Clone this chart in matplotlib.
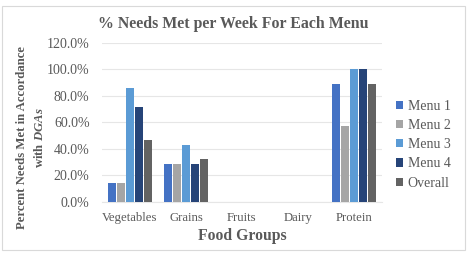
import numpy as np
import matplotlib
matplotlib.use("Agg")
import matplotlib.pyplot as plt
from matplotlib.patches import Rectangle

plt.rcParams['font.family'] = ['Liberation Serif', 'DejaVu Serif']
plt.rcParams['mathtext.fontset'] = 'custom'
plt.rcParams['mathtext.bfit'] = 'Liberation Serif:italic:bold'
plt.rcParams['mathtext.it'] = 'Liberation Serif:italic'
plt.rcParams['mathtext.rm'] = 'Liberation Serif'

groups = ["Vegetables", "Grains", "Fruits", "Dairy", "Protein"]
series = ["Menu 1", "Menu 2", "Menu 3", "Menu 4", "Overall"]
menu1 = [14.3, 28.6, 0, 0, 89.3]
menu2 = [14.3, 28.6, 0, 0, 57.1]
menu3 = [85.7, 42.9, 0, 0, 100.0]
menu4 = [71.4, 28.6, 0, 0, 100.0]
overall = [46.4, 32.1, 0, 0, 89.3]
colors = ["#4472C4", "#A5A5A5", "#5B9BD5", "#264478", "#636363"]

text_col = "#595959"

fig = plt.figure(figsize=(4.68, 2.54), dpi=100)
fig.patches.append(Rectangle((0.004, 0.016), 0.99, 0.96, transform=fig.transFigure,
                             fill=False, edgecolor="#D9D9D9", linewidth=0.8))
ax = fig.add_axes([0.218, 0.205, 0.598, 0.626])

x = np.arange(len(groups))
step = 0.16
width = 0.14
for i, (vals, name) in enumerate(zip([menu1, menu2, menu3, menu4, overall], series)):
    ax.bar(x + (i - 2) * step, np.array(vals) / 100, width=width,
           color=colors[i], label=name, zorder=3)

ax.set_ylim(0, 1.2)
ax.set_xlim(-0.5, 4.5)
ax.set_yticks(np.arange(0, 1.21, 0.2))
ax.set_yticklabels(["%.1f%%" % (v * 100) for v in np.arange(0, 1.21, 0.2)])
ax.set_xticks(x)
ax.set_xticklabels(groups)
ax.tick_params(axis="y", length=0, labelsize=10, colors=text_col, pad=9)
ax.tick_params(axis="x", length=0, labelsize=9.2, colors=text_col, pad=7)
ax.grid(axis="y", color="#E6E6E6", linewidth=0.8, zorder=0)
for s in ["top", "right", "left"]:
    ax.spines[s].set_visible(False)
ax.spines["bottom"].set_color("#E6E6E6")

ax.set_xlabel("Food Groups", fontsize=11.3, fontweight="bold", color=text_col, labelpad=3)

fig.text(0.498, 0.905, "% Needs Met per Week For Each Menu", ha="center", va="center",
         fontsize=11.4, fontweight="bold", color=text_col)
fig.text(0.047, 0.46, "Percent Needs Met in Accordance", rotation=90, ha="center",
         va="center", fontsize=9.2, fontweight="bold", color=text_col)
fig.text(0.084, 0.46, r"with $\mathbfit{DGAs}$", rotation=90, ha="center",
         va="center", fontsize=9.2, fontweight="bold", color=text_col)

leg = ax.legend(loc="center left", bbox_to_anchor=(1.025, 0.36), frameon=False,
                fontsize=10, handlelength=0.55, handleheight=0.55, handletextpad=0.3,
                labelspacing=0.45, labelcolor=text_col, borderpad=0)

fig.savefig("out.png", dpi=100)
